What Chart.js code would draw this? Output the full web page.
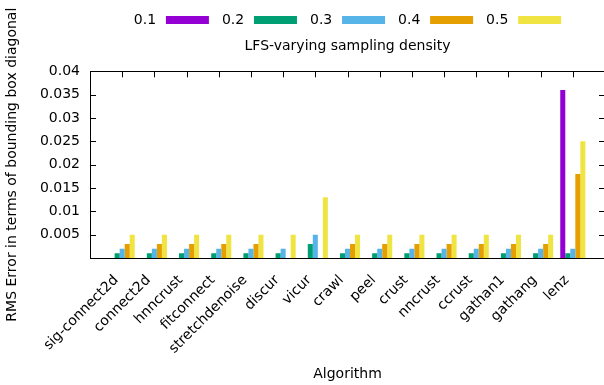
<!DOCTYPE html>
<html lang="en">
<head>
    <meta charset="UTF-8">
    <title>LFS-varying sampling density</title>
    <style>
        html, body { margin: 0; padding: 0; overflow: hidden; background: #fff; }
    </style>
</head>
<body>
    <canvas id="myChart" width="612" height="385"></canvas>

    <script src="https://cdn.jsdelivr.net/npm/chart.js"></script>
    <script>
        // algorithms on the x axis
        const algorithms = ["sig-connect2d", "connect2d", "hnncrust", "fitconnect", "stretchdenoise",
            "discur", "vicur", "crawl", "peel", "crust", "nncrust", "ccrust", "gathan1", "gathang", "lenz"];

        // RMS error per sampling density
        const d01 = [0, 0, 0, 0, 0, 0, 0, 0, 0, 0, 0, 0, 0, 0, 0.036];
        const d02 = [0.001, 0.001, 0.001, 0.001, 0.001, 0.001, 0.003, 0.001, 0.001, 0.001, 0.001, 0.001, 0.001, 0.001, 0.001];
        const d03 = [0.002, 0.002, 0.002, 0.002, 0.002, 0.002, 0.005, 0.002, 0.002, 0.002, 0.002, 0.002, 0.002, 0.002, 0.002];
        const d04 = [0.003, 0.003, 0.003, 0.003, 0.003, 0, 0, 0.003, 0.003, 0.003, 0.003, 0.003, 0.003, 0.003, 0.018];
        const d05 = [0.005, 0.005, 0.005, 0.005, 0.005, 0.005, 0.013, 0.005, 0.005, 0.005, 0.005, 0.005, 0.005, 0.005, 0.025];

        const seriesNames = ["0.1", "0.2", "0.3", "0.4", "0.5"];
        const seriesColors = ["#9400d3", "#009e73", "#56b4e9", "#e69f00", "#f0e442"];

        const yTicks = [0.005, 0.01, 0.015, 0.02, 0.025, 0.03, 0.035, 0.04];

        // empty slot on each side, like the gnuplot x range
        const labels = [""].concat(algorithms, [""]);
        const pad = (arr) => [null].concat(arr, [null]);

        const v_datasets = [d01, d02, d03, d04, d05].map((d, i) => ({
            label: seriesNames[i],
            data: pad(d),
            backgroundColor: seriesColors[i],
            borderWidth: 0,
            categoryPercentage: 0.78,
            barPercentage: 1.0
        }));

        const font = { family: "DejaVu Sans", size: 14 };

        // gnuplot style frame: top line plus inward ticks
        const framePlugin = {
            id: "frame",
            beforeDatasetsDraw(chart) {
                const { ctx, chartArea: a, scales: { x } } = chart;
                ctx.save();
                ctx.strokeStyle = "#000";
                ctx.lineWidth = 1;
                ctx.beginPath();
                for (let i = 1; i <= algorithms.length; i++) {
                    const px = Math.round(x.getPixelForTick(i)) + 0.5;
                    ctx.moveTo(px, a.bottom);
                    ctx.lineTo(px, a.bottom - 6);
                }
                ctx.stroke();
                ctx.restore();
            },
            afterDraw(chart) {
                const { ctx, chartArea: a, scales: { x, y } } = chart;
                ctx.save();
                ctx.strokeStyle = "#000";
                ctx.lineWidth = 1;
                ctx.beginPath();
                const top = Math.round(a.top) + 0.5;
                ctx.moveTo(a.left, top);
                ctx.lineTo(a.right, top);
                for (let i = 1; i <= algorithms.length; i++) {
                    const px = Math.round(x.getPixelForTick(i)) + 0.5;
                    ctx.moveTo(px, a.top);
                    ctx.lineTo(px, a.top + 6);
                }
                yTicks.forEach(v => {
                    const py = Math.round(y.getPixelForValue(v)) + 0.5;
                    ctx.moveTo(a.left, py);
                    ctx.lineTo(a.left + 6, py);
                    ctx.moveTo(a.right, py);
                    ctx.lineTo(a.right - 6, py);
                });
                ctx.stroke();
                ctx.restore();
            }
        };

        const ctx = document.getElementById("myChart");

        new Chart(ctx, {
            type: "bar",
            data: {
                labels: labels,
                datasets: v_datasets
            },
            options: {
                responsive: false,
                animation: false,
                layout: { padding: { left: 0, right: 7, top: 0, bottom: 0 } },
                plugins: {
                    legend: {
                        position: "top",
                        fullSize: false,
                        reverse: true,
                        rtl: true,
                        labels: {
                            font: font,
                            color: "#000",
                            boxWidth: 43,
                            boxHeight: 8,
                            padding: 13,
                            generateLabels(chart) {
                                return chart.data.datasets.map((ds, i) => ({
                                    text: ds.label + "\u2009",
                                    fillStyle: ds.backgroundColor,
                                    strokeStyle: ds.backgroundColor,
                                    lineWidth: 0,
                                    hidden: false,
                                    datasetIndex: i,
                                    fontColor: "#000"
                                }));
                            }
                        }
                    },
                    title: {
                        display: true,
                        text: "LFS-varying sampling density",
                        fullSize: false,
                        weight: 500,
                        color: "#000",
                        font: { family: "DejaVu Sans", size: 14, weight: "normal" },
                        padding: { top: 1, bottom: 16.5 }
                    },
                    tooltip: { enabled: false }
                },
                scales: {
                    x: {
                        offset: false,
                        grid: { display: false },
                        border: { color: "#000", width: 1 },
                        ticks: {
                            font: font,
                            color: "#000",
                            minRotation: 45,
                            maxRotation: 45,
                            autoSkip: false,
                            padding: 6,
                            labelOffset: -6
                        },
                        title: {
                            display: true,
                            text: "Algorithm",
                            font: font,
                            color: "#000",
                            padding: { top: 0, bottom: 2 }
                        },
                        afterFit(scale) {
                            scale.height = 127;
                            scale.paddingLeft = 0;
                            scale.paddingRight = 0;
                        }
                    },
                    y: {
                        min: 0,
                        max: 0.04,
                        grid: { display: false, drawTicks: false },
                        border: { color: "#000", width: 1 },
                        ticks: {
                            stepSize: 0.005,
                            font: font,
                            color: "#000",
                            padding: 10,
                            callback: (v) => v === 0 ? "" : String(+v.toFixed(3))
                        },
                        title: {
                            display: true,
                            text: "RMS Error in terms of bounding box diagonal",
                            font: font,
                            color: "#000",
                            padding: { top: 4, bottom: 0 }
                        },
                        afterFit(scale) {
                            scale.width = 90;
                            scale.paddingTop = 0;
                            scale.paddingBottom = 0;
                        }
                    }
                }
            },
            plugins: [framePlugin]
        });
    </script>
</body>
</html>
